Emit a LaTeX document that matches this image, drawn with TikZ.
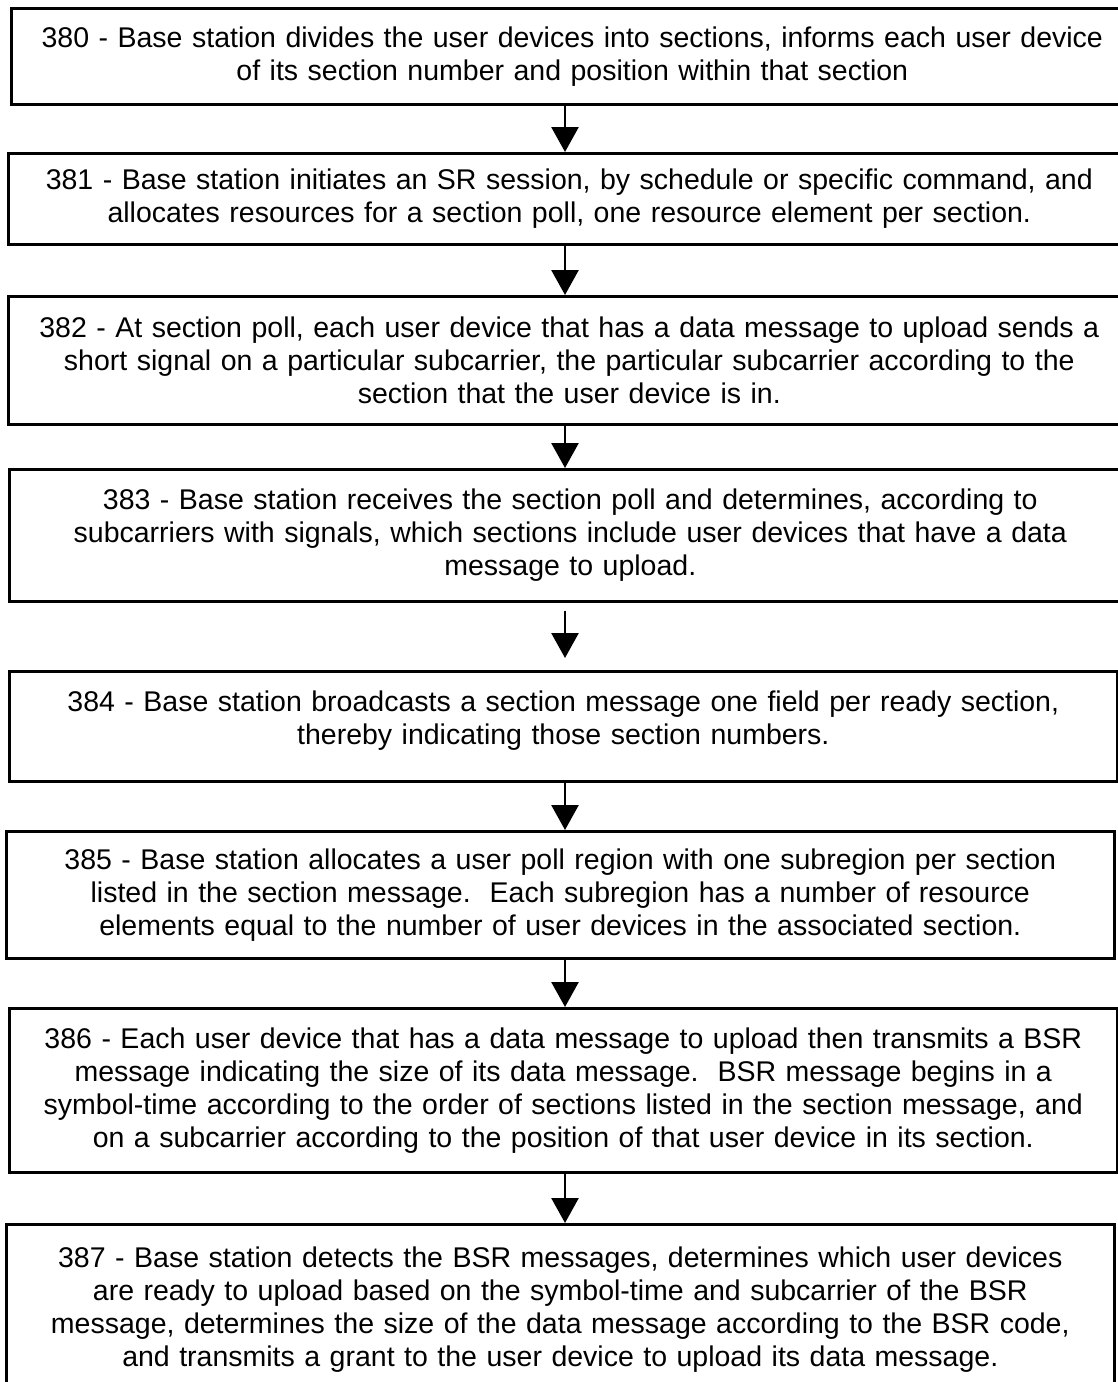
\documentclass[tikz,border=0pt]{standalone}
\usepackage{fontspec}
\setmainfont{Liberation Sans}
\usetikzlibrary{arrows.meta,positioning}

\begin{document}
\begin{tikzpicture}[x=1pt,y=1pt,
        box/.style={draw=black,line width=2.6pt,fill=white,anchor=north west,
          text width=1100pt,align=center,font=\fontsize{28.5}{33}\selectfont,inner sep=0pt,
          minimum width=1108pt},
        wide/.style={minimum width=1122pt},
        arr/.style={-{Triangle[length=25pt,width=27pt]},black,line width=2.6pt}]
        \useasboundingbox (0,0) rectangle (1117,-1382);
        \coordinate (ax) at (565,0);
        \node[box,wide,minimum height=96pt](s380) at (10,-7){380 - Base station divides the user devices into sections, informs each user device\\of its section number and position within that section};
        \node[box,wide,minimum height=91pt](s381) at (7,-152){381 - Base station initiates an SR session, by schedule or specific command, and\\allocates resources for a section poll, one resource element per section.};
        \node[box,wide,minimum height=128pt](s382) at (7,-295){382 - At section poll, each user device that has a data message to upload sends a\\short signal on a particular subcarrier, the particular subcarrier according to the\\section that the user device is in.};
        \node[box,wide,minimum height=132pt](s383) at (8,-468){383 - Base station receives the section poll and determines, according to\\subcarriers with signals, which sections include user devices that have a data\\message to upload.};
        \node[box,minimum height=110pt](s384) at (8,-670){384 - Base station broadcasts a section message one field per ready section,\\thereby indicating those section numbers.\\[-15pt]\mbox{}};
        \node[box,minimum height=127pt](s385) at (5,-830){385 - Base station allocates a user poll region with one subregion per section\\listed in the section message.\ \ Each subregion has a number of resource\\elements equal to the number of user devices in the associated section.};
        \node[box,minimum height=164pt](s386) at (8,-1007){386 - Each user device that has a data message to upload then transmits a BSR\\message indicating the size of its data message.\ \ BSR message begins in a\\symbol-time according to the order of sections listed in the section message, and\\on a subcarrier according to the position of that user device in its section.};
        \node[box,minimum height=170pt](s387) at (5,-1223){387 - Base station detects the BSR messages, determines which user devices\\are ready to upload based on the symbol-time and subcarrier of the BSR\\message, determines the size of the data message according to the BSR code,\\and transmits a grant to the user device to upload its data message.};
        \draw[arr](s380.south -| ax)--(s381.north -| ax);
        \draw[arr](s381.south -| ax)--(s382.north -| ax);
        \draw[arr](s382.south -| ax)--(s383.north -| ax);
        \draw[arr,shorten <=8pt,shorten >=12pt](s383.south -| ax)--(s384.north -| ax);
        \draw[arr](s384.south -| ax)--(s385.north -| ax);
        \draw[arr](s385.south -| ax)--(s386.north -| ax);
        \draw[arr](s386.south -| ax)--(s387.north -| ax);
      \end{tikzpicture}
\end{document}
